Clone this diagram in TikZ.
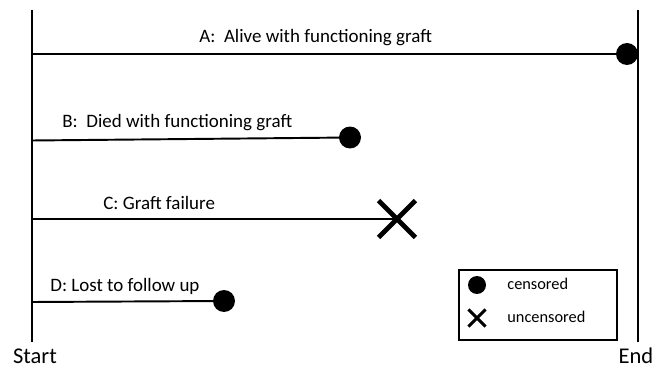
\documentclass[tikz,border=0pt]{standalone}
\usepackage{fontspec}
\setmainfont{Carlito}
\usetikzlibrary{shapes.misc}

\begin{document}
\begin{tikzpicture}[x=0.02cm, y=-0.02cm]
	\tikzstyle{axis} = [
		draw=black, line width=1.1pt
	]
	\tikzstyle{track} = [
		draw=black, line width=1.1pt
	]
	\tikzstyle{cens} = [
		circle, fill=black, inner sep=0pt, minimum size=0.44cm
	]
	\tikzstyle{uncens} = [
		cross out, draw=black, line width=2.8pt, inner sep=0pt, minimum size=0.64cm
	]
	\tikzstyle{caption} = [
		anchor=base west, inner sep=0pt, font=\fontsize{10.8}{12}\selectfont
	]
	\tikzstyle{legendtext} = [
		anchor=base west, inner sep=0pt, font=\fontsize{9.3}{11}\selectfont
	]

	\useasboundingbox (0,0) rectangle (666,371);

	% Start / End axes
	\coordinate (start_top) at (32,10);
	\coordinate (start_bot) at (32,342);
	\coordinate (end_top) at (638,10);
	\coordinate (end_bot) at (638,342);
	\draw[axis] (start_top) -- (start_bot);
	\draw[axis] (end_top) -- (end_bot);
	\node (Start) [anchor=base, inner sep=0pt, font=\fontsize{12.8}{14}\selectfont] at (35,363) {Start};
	\node (End) [anchor=base, inner sep=0pt, font=\fontsize{12.8}{14}\selectfont] at (636,363) {End};

	% A
	\coordinate (A_in) at (32,54);
	\node (A_out) [cens] at (627,54) {};
	\draw[track] (A_in) -- (A_out.center);
	\node (A_cap) [caption] at (199,43) {A:\ \ Alive with functioning graft};

	% B
	\coordinate (B_in) at (32,140.5);
	\node (B_out) [cens] at (350,137.5) {};
	\draw[track] (B_in) -- (B_out.center);
	\node (B_cap) [caption] at (62,128) {B:\ \ Died with functioning graft};

	% C
	\coordinate (C_in) at (32,219);
	\node (C_out) [uncens] at (397,219) {};
	\draw[draw=black, line width=0.6pt] (C_in) -- (C_out.center);
	\node (C_cap) [caption] at (103,210) {C: Graft failure};

	% D
	\coordinate (D_in) at (32,302);
	\node (D_out) [cens] at (224,301) {};
	\draw[track] (D_in) -- (D_out.center);
	\node (D_cap) [caption] at (50,292) {D: Lost to follow up};

	% Legend
	\node (Legend) [draw=black, line width=1.1pt, minimum width=3.16cm, minimum height=1.4cm, inner sep=0pt] at (538,305) {};
	\node (Leg_cens) [circle, fill=black, inner sep=0pt, minimum width=0.34cm, minimum height=0.36cm] at (477,285) {};
	\node (Leg_cens_txt) [legendtext] at (507,290) {censored};
	\node (Leg_uncens) [cross out, draw=black, line width=1.8pt, inner sep=0pt, minimum size=0.28cm] at (477,318) {};
	\node (Leg_uncens_txt) [legendtext] at (507,322) {uncensored};

\end{tikzpicture}
\end{document}
